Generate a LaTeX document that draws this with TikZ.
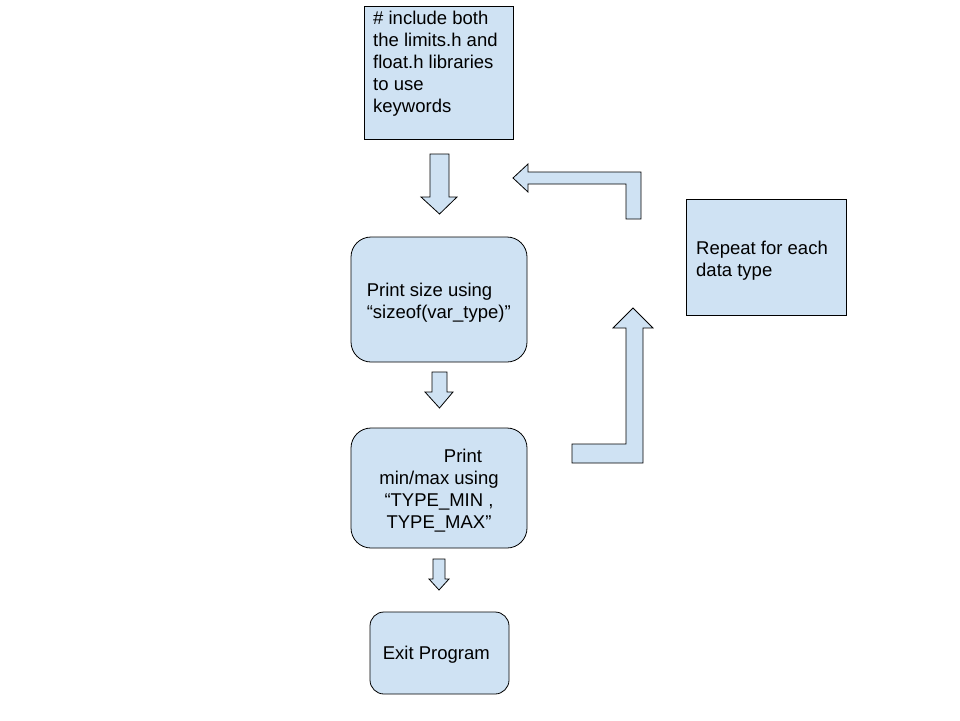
\documentclass[tikz,border=0pt]{standalone}
\usepackage{fontspec}
\setmainfont{Liberation Sans}
\definecolor{boxblue}{HTML}{CFE2F3}
\begin{document}
\begin{tikzpicture}[x=1pt,y=-1pt,
		box/.style={draw=black,fill=boxblue,line width=0.8pt,font=\fontsize{18.5}{22}\selectfont},
		rbox/.style={box,rounded corners=20pt},
		txt/.style={inner sep=0pt,font=\fontsize{18.5}{22}\selectfont,align=left},
		blk/.style={draw=black,fill=boxblue,line width=0.8pt,line join=miter}]
			\useasboundingbox (0,0) rectangle (960,720);
			% boxes
			\node[box,minimum width=149,minimum height=133,anchor=north west] (incl) at (364,6) {};
			\node[txt,anchor=north west] (incltxt) at ([shift={(9,5)}]incl.north west) {\# include both\\the limits.h and\\float.h libraries\\to use\\keywords};
			\node[rbox,minimum width=176,minimum height=125] (size) at (439,299.5) {};
			\node[txt,anchor=west] (sizetxt) at ([shift={(16,3)}]size.west) {Print size using\\“sizeof(var\_type)”};
			\node[rbox,minimum width=176,minimum height=120] (minmax) at (439,488) {};
			\node[txt,align=center] (minmaxtxt) at ([shift={(0,3)}]minmax.center) {\hspace*{48pt}Print\\min/max using\\“TYPE\_MIN ,\\TYPE\_MAX”};
			\node[rbox,minimum width=139,minimum height=82,rounded corners=14pt] (exit) at (439.5,653) {};
			\node[txt,anchor=west] (exittxt) at ([shift={(13,2)}]exit.west) {Exit Program};
			\node[box,minimum width=160,minimum height=116,anchor=north west] (repeat) at (686,199) {};
			\node[txt,anchor=west] (repeattxt) at ([shift={(10,3)}]repeat.west) {Repeat for each\\data type};
			% down arrows
			\draw[blk] (430,154) -- (449,154) -- (449,197) -- (457,197) -- (439.5,214) -- (421,197) -- (430,197) -- cycle;
			\draw[blk] (432,372) -- (447,372) -- (447,392) -- (453,392) -- (439.5,408) -- (425,392) -- (432,392) -- cycle;
			\draw[blk] (433,559) -- (445,559) -- (445,579) -- (449,579) -- (439,590) -- (429,579) -- (433,579) -- cycle;
			% bent arrows
			\draw[blk] (572,444) -- (626,444) -- (626,328) -- (613,328) -- (633,308) -- (653,328) -- (643,328) -- (643,463) -- (572,463) -- cycle;
			\draw[blk] (641,219) -- (641,172) -- (528,172) -- (528,164) -- (513,178) -- (528,192) -- (528,184) -- (626,184) -- (626,219) -- cycle;
		\end{tikzpicture}
\end{document}
